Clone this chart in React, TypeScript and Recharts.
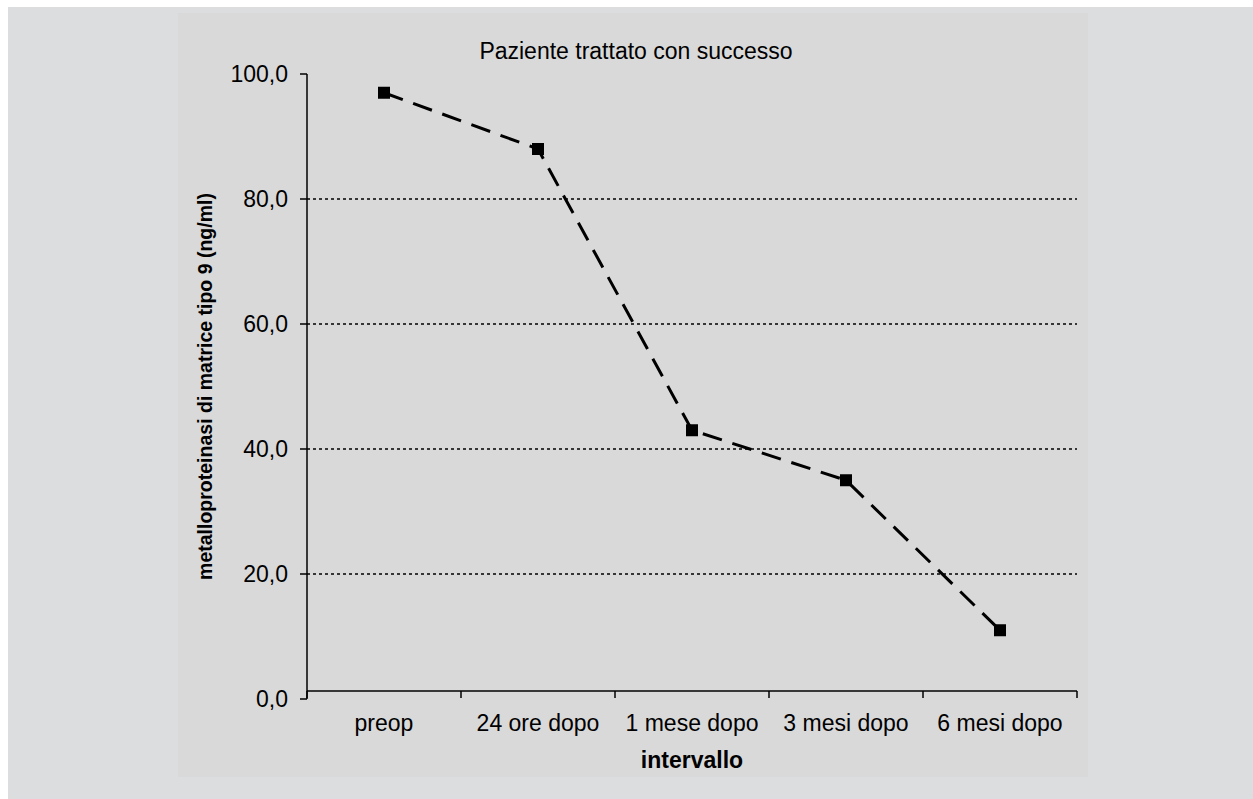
import React from 'react';
import { LineChart, Line, XAxis, YAxis, CartesianGrid } from 'recharts';

const categories = ['preop', '24 ore dopo', '1 mese dopo', '3 mesi dopo', '6 mesi dopo'];
const values = [97, 88, 43, 35, 11];
const yTicks = [0, 20, 40, 60, 80, 100];
const gridValues = [20, 40, 60, 80];
const title = 'Paziente trattato con successo';
const yLabel = 'metalloproteinasi di matrice tipo 9 (ng/ml)';
const xLabel = 'intervallo';

const FONT = '"Liberation Sans", Arial, Helvetica, sans-serif';

const data = categories.map((c, i) => ({ pos: i + 0.5, name: c, value: values[i] }));
const xTicks: number[] = [];
for (let i = 0; i <= categories.length; i++) {
  xTicks.push(i);
  if (i < categories.length) xTicks.push(i + 0.5);
}

const fmt = (v: number) => v.toFixed(1).replace('.', ',');

const XTick = (props: any) => {
  const { x, y, payload } = props;
  const v = payload.value;
  if (Number.isInteger(v)) {
    return <line x1={x} x2={x} y1={y - 8} y2={y - 1} stroke="#000" strokeWidth={1.5} />;
  }
  const idx = Math.round(v - 0.5);
  return (
    <text x={x} y={y + 32} textAnchor="middle" fontSize={23} fill="#000" fontFamily={FONT}>
      {categories[idx]}
    </text>
  );
};

const Dot = (props: any) => {
  const { cx, cy, index } = props;
  return <rect key={`d${index}`} x={cx - 6} y={cy - 6} width={12} height={12} fill="#000" />;
};

export default function App() {
  return (
    <div style={{ position: 'absolute', left: 8, top: 7, width: 1245, height: 792, background: '#dcdddf', fontFamily: FONT }}>
      <div style={{ position: 'absolute', left: 170, top: 6, width: 910, height: 764, background: '#d9d9d9' }}>
        <div
          style={{
            position: 'absolute',
            left: 3,
            top: 27,
            width: 910,
            textAlign: 'center',
            fontSize: 23,
            lineHeight: '23px',
            color: '#000',
            fontFamily: FONT,
          }}
        >
          {title}
        </div>
        <LineChart width={910} height={764} data={data} margin={{ top: 61, right: 11, left: 0, bottom: 0 }}>
          <CartesianGrid
            horizontal={true}
            vertical={false}
            horizontalValues={gridValues}
            stroke="#000"
            strokeWidth={1.3}
            strokeDasharray="3 3"
          />
          <XAxis
            dataKey="pos"
            type="number"
            domain={[0, categories.length]}
            ticks={xTicks}
            interval={0}
            height={78}
            tickSize={0}
            tickMargin={0}
            tickLine={false}
            tick={<XTick />}
            axisLine={{ stroke: '#000', strokeWidth: 1.5, transform: 'translate(0,-8)' }}
            label={{ value: xLabel, position: 'insideBottom', offset: 9, fontSize: 23, fontWeight: 'bold', fill: '#000', fontFamily: FONT }}
          />
          <YAxis
            domain={[0, 100]}
            ticks={yTicks}
            interval={0}
            width={129}
            tickSize={7}
            tickMargin={12}
            tickFormatter={fmt}
            tick={{ fontSize: 23, fill: '#000', fontFamily: FONT }}
            tickLine={{ stroke: '#000', strokeWidth: 1.5 }}
            axisLine={{ stroke: '#000', strokeWidth: 1.5 }}
            label={{
              value: yLabel,
              angle: -90,
              position: 'insideLeft',
              offset: 27,
              style: { textAnchor: 'middle' },
              fontSize: 19.5,
              fontWeight: 'bold',
              fill: '#000',
              fontFamily: FONT,
            }}
          />
          <Line
            type="linear"
            dataKey="value"
            stroke="#000"
            strokeWidth={3}
            strokeDasharray="20 11"
            dot={Dot}
            activeDot={false}
            isAnimationActive={false}
          />
        </LineChart>
      </div>
    </div>
  );
}
